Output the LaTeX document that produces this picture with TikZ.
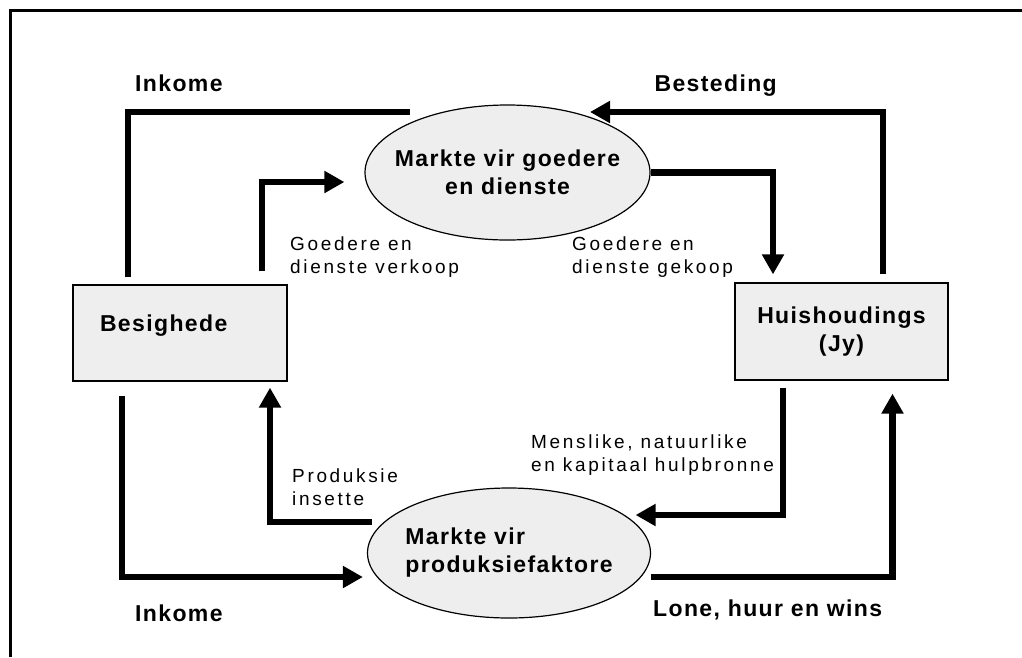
\documentclass[tikz,border=0pt]{standalone}
\usepackage{fontspec}
\setmainfont{Liberation Sans}
\newfontfamily\headfont[LetterSpace=6]{Liberation Sans}
\newfontfamily\notefont[LetterSpace=14]{Liberation Sans}
\usetikzlibrary{positioning, arrows.meta, shapes.geometric}

\begin{document}
\begin{tikzpicture}[
      x=1pt, y=-1pt,
      sector/.style={
        rectangle,
        draw,
        line width=1.2pt,
        fill=gray!13,
        font=\headfont\bfseries\fontsize{23}{28}\selectfont
      },
      market/.style={
        ellipse,
        draw,
        line width=1.2pt,
        fill=gray!13,
        inner xsep=-20pt,
        font=\headfont\bfseries\fontsize{23}{28}\selectfont
      },
      head/.style={inner sep=0pt, font=\headfont\bfseries\fontsize{23}{28}\selectfont},
      note/.style={inner sep=0pt, align=left, font=\notefont\fontsize{19}{23}\selectfont},
      flow/.style={line width=6.5pt, -{Triangle[length=20pt,width=21pt]}}
    ]
    \useasboundingbox (0,0) rectangle (1022,657);
    % Frame
    \draw[line width=3pt] (10,657) -- (10,10) -- (1022,10);

    % Nodes
    \node[sector, text width=160pt, inner xsep=27pt, inner ysep=0pt,
          text height=46.5pt, text depth=49.5pt, align=left] (bes) at (180,333) {Besighede};
    \node[sector, minimum width=213pt, minimum height=97pt, align=center] (hh) at (841.5,331.5) {Huishoudings\\(Jy)};
    \node[market, minimum width=285pt, minimum height=135pt, align=center] (goods) at (507.5,172.5) {Markte vir goedere\\en dienste};
    \node[market, minimum width=283pt, minimum height=130pt, align=left] (factor) at (509,553) {Markte vir\\produksiefaktore};

    % Labels
    \node[head, anchor=base west] (inc1) at (135,91) {Inkome};
    \node[head, anchor=base east] (spend) at (777,91) {Besteding};
    \node[head, anchor=base west] (inc2) at (135,621) {Inkome};
    \node[head, anchor=base west] (wage) at (653,616) {Lone, huur en wins};
    \node[note, anchor=west] (sold) at (290,257) {Goedere en\\dienste verkoop};
    \node[note, anchor=west] (bought) at (572,257) {Goedere en\\dienste gekoop};
    \node[note, anchor=west] (res) at (531,455) {Menslike, natuurlike\\en kapitaal hulpbronne};
    \node[note, anchor=west] (inputs) at (292,487) {Produksie\\insette};

    \coordinate (incend) at (410,112);
    \coordinate (spendtip) at (590,112);

    % Arrows
    \draw[flow, -] ([xshift=-52pt,yshift=7pt]bes.north) |- (incend);
    \draw[flow] ([xshift=41.5pt,yshift=8pt]hh.north) |- (spendtip);
    \draw[flow] ([xshift=82pt,yshift=13pt]bes.north) |- ([xshift=-20pt,yshift=-9.5pt]goods.west);
    \draw[flow] (goods.east) -| ([xshift=-68.5pt,yshift=8pt]hh.north);
    \draw[flow] ([xshift=-58.5pt,yshift=-7pt]hh.south) |- ([xshift=-15.5pt,yshift=38pt]factor.east);
    \draw[flow] ([yshift=-24pt]factor.east) -| ([xshift=51pt,yshift=-13pt]hh.south);
    \draw[flow] ([xshift=-58pt,yshift=-14pt]bes.south) |- ([xshift=-4pt,yshift=-24pt]factor.west);
    \draw[flow] ([xshift=5pt,yshift=31pt]factor.west) -| ([xshift=90pt,yshift=-6pt]bes.south);
\end{tikzpicture}
\end{document}
